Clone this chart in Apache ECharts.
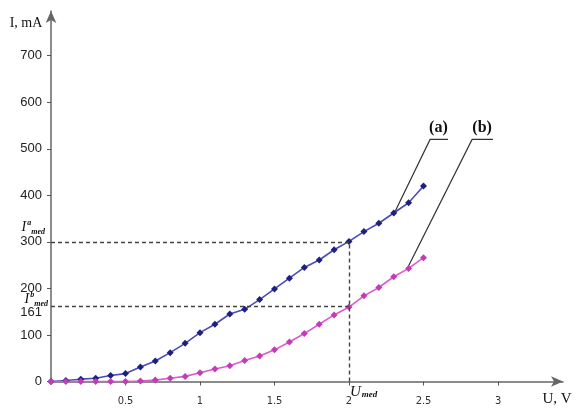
<!DOCTYPE html>
<html><head><meta charset="utf-8">
<script src="https://cdn.jsdelivr.net/npm/echarts@6/dist/echarts.min.js"></script>
<style>html,body{margin:0;padding:0;background:#fff}#c{width:576px;height:415px}</style>
</head><body><div id="c"></div>
<script>
const voltage = [0,0.1,0.2,0.3,0.4,0.5,0.6,0.7,0.8,0.9,1.0,1.1,1.2,1.3,1.4,1.5,1.6,1.7,1.8,1.9,2.0,2.1,2.2,2.3,2.4,2.5];
const currentA = [0,2,5,7,13,17,31,44,62,82,105,123,145,155,176,199,222,245,261,283,301,322,340,362,384,420];
const currentB = [0,0,0,0,0,0,1,3,7,11,19,27,34,45,55,68,85,103,123,143,160,184,202,225,243,266];
const xTicks = [0.5,1,1.5,2,2.5,3];
const yTicks = [0,100,200,300,400,500,600,700];
const uMed = 2;
const iMedA = 300;
const iMedB = 161;

const chart = echarts.init(document.getElementById('c'), null, {renderer:'canvas'});
const pairs = (ys) => voltage.map((u,i)=>[u, ys[i]]);
const dashStyle = {color:'#444', width:1.4, type:[4,3]};

chart.setOption({
  animation:false,
  backgroundColor:'#fff',
  grid:{left:51, right:13, top:11, bottom:33.5, containLabel:false, outerBoundsMode:'none'},
  xAxis:{
    type:'value', min:0, max:3.436,
    splitLine:{show:false},
    axisLine:{lineStyle:{color:'#666', width:1.5}, symbol:['none','arrow'], symbolSize:[8,12]},
    axisTick:{show:true, customValues:xTicks, length:4, inside:false, lineStyle:{color:'#555'}},
    axisLabel:{customValues:xTicks, margin:14, fontSize:11, color:'#333', fontFamily:'DejaVu Sans Condensed, Liberation Sans Narrow, sans-serif'}
  },
  yAxis:{
    type:'value', min:0, max:796,
    splitLine:{show:false},
    axisLine:{show:true, lineStyle:{color:'#666', width:1.5}, symbol:['none','arrow'], symbolSize:[8,12]},
    axisTick:{show:true, customValues:yTicks, length:4, lineStyle:{color:'#555'}},
    axisLabel:{customValues:yTicks, margin:9, fontSize:13, color:'#222', fontFamily:'Liberation Sans Narrow, Liberation Sans, sans-serif'}
  },
  series:[
    {name:'(a)', type:'line', data:pairs(currentA), symbol:'diamond', symbolSize:7,
     lineStyle:{color:'#4b4bbb', width:1.6}, itemStyle:{color:'#1f1f80'},
     markLine:{silent:true, symbol:['none','none'], label:{show:false}, lineStyle:dashStyle,
       data:[[{coord:[0,iMedA]},{coord:[uMed,iMedA]}],[{coord:[uMed,0]},{coord:[uMed,iMedA]}]]}},
    {name:'(b)', type:'line', data:pairs(currentB), symbol:'diamond', symbolSize:7,
     lineStyle:{color:'#dc5ad2', width:1.6}, itemStyle:{color:'#c23cb8'},
     markLine:{silent:true, symbol:['none','none'], label:{show:false}, lineStyle:dashStyle,
       data:[[{coord:[0,iMedB]},{coord:[uMed,iMedB]}]]}}
  ]
});

// annotation anchors in data coordinates
const annA = {text:[2.6,546], lineL:[2.544,520], lineR:[2.664,520], tip:[2.31,366]};
const annB = {text:[2.893,546], lineL:[2.826,520], lineR:[2.966,520], tip:[2.396,246]};
const px = (p)=>chart.convertToPixel({gridIndex:0}, p);
function leader(a){
  const l = px(a.lineL), r = px(a.lineR), t = px(a.tip);
  return {type:'polyline', shape:{points:[r,l,t]}, style:{stroke:'#333', lineWidth:1.2, fill:null}};
}
function label(a, s){
  const p = px(a.text);
  return {type:'text', x:p[0], y:p[1], style:{text:s, align:'center', verticalAlign:'middle', font:'bold 16px "Liberation Serif", serif', fill:'#111'}};
}
const pU = px([uMed,0]);
const pIA = px([0,iMedA]);
const pIB = px([0,iMedB]);
const med = {fontSize:8, fontStyle:'italic', fontWeight:'bold', fontFamily:'Liberation Serif', fill:'#111', verticalAlign:'bottom'};
chart.setOption({graphic:[
  leader(annA), leader(annB), label(annA,'(a)'), label(annB,'(b)'),
  {type:'text', x:26, y:23, style:{text:'I, mA', align:'center', verticalAlign:'middle', font:'14px "Liberation Serif", serif', fill:'#111'}},
  {type:'text', x:557, y:399, style:{text:'U, V', align:'center', verticalAlign:'middle', font:'15px "Liberation Serif", serif', fill:'#111'}},
  {type:'text', x:pU[0]+1, y:pU[1]+3, style:{text:'{u|U}{s|med}', align:'left', verticalAlign:'top',
     rich:{u:{fontSize:15, fontStyle:'italic', fontFamily:'Liberation Serif', fill:'#111'}, s:Object.assign({}, med, {fontSize:9, padding:[6,0,0,1]})}}},
  {type:'text', x:pIA[0]-6, y:pIA[1]-6, style:{text:'{i|I}{a|a}{s|med}', align:'right', verticalAlign:'bottom',
     rich:{i:{fontSize:14, fontStyle:'italic', fontFamily:'Liberation Serif', fill:'#111'}, a:{fontSize:8, fontStyle:'italic', fontWeight:'bold', fontFamily:'Liberation Serif', fill:'#111', padding:[0,0,9,1]}, s:Object.assign({}, med, {padding:[0,0,0,0]})}}},
  {type:'text', x:pIB[0]-3, y:pIB[1]+1, style:{text:'{i|I}{a|b}{s|med}', align:'right', verticalAlign:'bottom',
     rich:{i:{fontSize:14, fontStyle:'italic', fontFamily:'Liberation Serif', fill:'#111'}, a:{fontSize:8, fontStyle:'italic', fontWeight:'bold', fontFamily:'Liberation Serif', fill:'#111', padding:[0,0,9,1]}, s:Object.assign({}, med, {padding:[0,0,0,0]})}}},
  {type:'text', x:pIB[0]-9, y:pIB[1]+6, style:{text:String(iMedB), align:'right', verticalAlign:'middle', font:'13px "Liberation Sans Narrow", "Liberation Sans", sans-serif', fill:'#222'}}
]});
</script></body></html>
